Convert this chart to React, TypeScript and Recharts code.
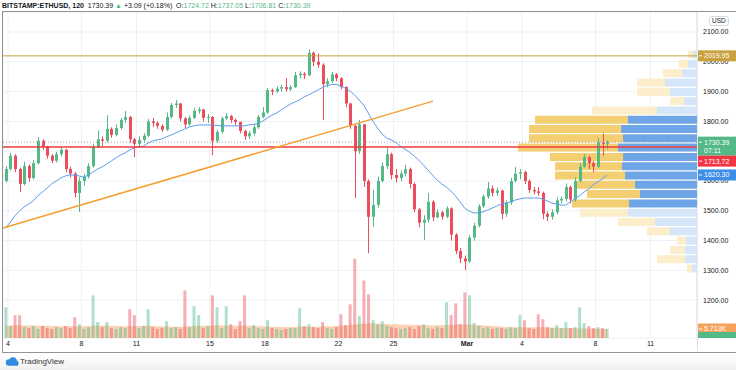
import React from 'react';
import { ComposedChart, Bar, Line, Area, XAxis, YAxis, CartesianGrid, ReferenceLine, Cell } from 'recharts';

const W = 736;
const H = 370;
const UP = '#53b987';
const DOWN = '#eb4d5c';
const FONT = '"Liberation Sans", Arial, sans-serif';

// axes
const X_DOMAIN = [-0.27, 37.53];
const Y_DOMAIN = [1073.2, 2167.1];
const dayTicks = [0, 4, 7, 11, 14, 18, 21, 25, 28, 32, 35];
const dayLabels = ['4', '8', '11', '15', '18', '22', '25', 'Mar', '4', '8', '11'];
const priceTicks = [1200, 1300, 1400, 1500, 1600, 1700, 1800, 1900, 2000, 2100];
const hiddenPriceLabel = 1700; // covered by the last-price tag

// ETHUSD candles (one per 6h)
const firstOpen = 1600;
const closes = [
  1640, 1685, 1640, 1590, 1650, 1610, 1660, 1735, 1715, 1685,
  1668, 1690, 1705, 1640, 1625, 1560, 1600, 1615, 1650, 1715,
  1740, 1735, 1775, 1755, 1778, 1805, 1815, 1740, 1725, 1738,
  1752, 1800, 1795, 1785, 1772, 1815, 1855, 1860, 1810, 1790,
  1812, 1835, 1840, 1812, 1815, 1735, 1765, 1810, 1818, 1805,
  1798, 1768, 1750, 1760, 1780, 1815, 1830, 1905, 1900, 1910,
  1915, 1908, 1915, 1955, 1960, 1955, 2030, 2000, 1990, 1925,
  1935, 1958, 1945, 1915, 1860, 1785, 1700, 1790, 1600, 1480,
  1520, 1600, 1650, 1690, 1620, 1610, 1625, 1640, 1590, 1505,
  1460, 1470, 1530, 1478, 1495, 1480, 1508, 1420, 1365, 1340,
  1330, 1410, 1450, 1515, 1548, 1575, 1560, 1568, 1490, 1528,
  1600, 1625, 1630, 1600, 1570, 1565, 1560, 1490, 1480, 1495,
  1535, 1540, 1580, 1538, 1600, 1648, 1680, 1660, 1648, 1730,
  1724.72, 1730.39,
];
const highs = [
  1650, 1695, 1690, 1645, 1665, 1655, 1670, 1748, 1740, 1718,
  1690, 1698, 1714, 1708, 1648, 1630, 1612, 1625, 1660, 1725,
  1770, 1750, 1821, 1780, 1790, 1812, 1835, 1818, 1745, 1750,
  1760, 1808, 1812, 1800, 1790, 1830, 1862, 1872, 1862, 1815,
  1820, 1845, 1848, 1842, 1825, 1818, 1772, 1815, 1828, 1822,
  1810, 1800, 1772, 1768, 1790, 1822, 1848, 1912, 1910, 1918,
  1922, 1945, 1922, 1966, 1968, 1965, 2042, 2035, 2028, 1995,
  1945, 1966, 1962, 1948, 1918, 1862, 1790, 1805, 1792, 1605,
  1570, 1615, 1662, 1711, 1695, 1640, 1635, 1654, 1645, 1595,
  1510, 1485, 1560, 1535, 1505, 1500, 1515, 1512, 1425, 1375,
  1350, 1418, 1460, 1522, 1555, 1597, 1585, 1578, 1570, 1535,
  1610, 1647, 1640, 1635, 1605, 1580, 1580, 1565, 1498, 1505,
  1545, 1548, 1592, 1585, 1612, 1660, 1690, 1685, 1668, 1745,
  1760, 1737.05,
];
const lows = [
  1595, 1635, 1630, 1563, 1585, 1598, 1605, 1655, 1705, 1675,
  1660, 1662, 1682, 1630, 1612, 1545, 1496, 1585, 1608, 1645,
  1710, 1718, 1730, 1745, 1750, 1772, 1795, 1728, 1680, 1715,
  1730, 1748, 1782, 1775, 1765, 1768, 1810, 1845, 1800, 1778,
  1785, 1808, 1825, 1800, 1795, 1687, 1728, 1760, 1805, 1795,
  1785, 1760, 1738, 1740, 1752, 1775, 1810, 1825, 1888, 1895,
  1900, 1900, 1902, 1912, 1945, 1942, 1952, 1985, 1980, 1805,
  1915, 1930, 1935, 1908, 1848, 1775, 1543, 1690, 1580, 1358,
  1446, 1510, 1595, 1640, 1605, 1595, 1600, 1615, 1575, 1495,
  1445, 1402, 1460, 1465, 1475, 1470, 1475, 1400, 1355, 1325,
  1301, 1325, 1400, 1445, 1510, 1540, 1548, 1550, 1472, 1480,
  1520, 1595, 1605, 1590, 1560, 1555, 1550, 1472, 1465, 1470,
  1488, 1525, 1532, 1525, 1530, 1595, 1645, 1640, 1630, 1645,
  1685, 1706.81,
];
const maValues = [
  1442, 1462, 1483, 1499, 1513, 1523, 1533, 1550, 1563, 1576,
  1590, 1600, 1610, 1617, 1620, 1620, 1617, 1613, 1620, 1630,
  1640, 1647, 1657, 1667, 1677, 1687, 1694, 1704, 1711, 1714,
  1717, 1727, 1734, 1738, 1741, 1748, 1754, 1761, 1768, 1774,
  1781, 1785, 1788, 1788, 1788, 1788, 1786, 1785, 1785, 1785,
  1785, 1785, 1785, 1788, 1790, 1793, 1801, 1811, 1821, 1828,
  1838, 1848, 1858, 1865, 1872, 1882, 1889, 1897, 1905, 1914,
  1920, 1924, 1924, 1919, 1912, 1902, 1889, 1872, 1855, 1828,
  1801, 1778, 1758, 1744, 1738, 1729, 1717, 1707, 1696, 1684,
  1670, 1654, 1637, 1620, 1603, 1590, 1580, 1566, 1550, 1530,
  1509, 1499, 1493, 1493, 1496, 1503, 1509, 1516, 1523, 1526,
  1530, 1536, 1540, 1543, 1543, 1543, 1543, 1540, 1533, 1526,
  1523, 1519, 1519, 1530, 1540, 1550, 1563, 1573, 1587, 1597,
  1607, 1620.3,
];
// volume in K
const volumes = [
  19.5, 7.6, 14.5, 14.5, 6.9, 6.3, 7.6, 5.7, 7.6, 6.3,
  5.7, 6.9, 6.3, 7.6, 6.3, 13.2, 8.8, 5.7, 6.9, 27.1,
  10.1, 6.9, 10.1, 6.3, 5.7, 6.9, 6.3, 18.3, 14.5, 6.3,
  7.6, 18.3, 6.9, 5.7, 6.3, 10.7, 6.3, 6.9, 5.7, 30.2,
  6.9, 20.2, 14.5, 6.3, 7.6, 27.1, 19.5, 6.3, 20.2, 8.8,
  5.7, 10.7, 27.1, 6.3, 8.2, 6.3, 5.7, 11.3, 6.3, 5.7,
  5.0, 5.7, 6.3, 6.3, 18.9, 7.6, 8.8, 6.9, 6.3, 10.1,
  6.3, 5.7, 6.9, 15.1, 8.2, 21.4, 50.4, 13.9, 36.5, 27.7,
  11.3, 8.8, 10.7, 7.6, 6.9, 6.3, 5.7, 6.3, 6.9, 5.7,
  7.6, 8.8, 6.3, 5.7, 6.9, 6.3, 22.7, 14.5, 22.0, 8.8,
  29.0, 27.1, 9.5, 7.6, 6.3, 6.9, 5.7, 6.3, 6.3, 5.7,
  6.9, 6.3, 14.5, 11.3, 6.3, 5.7, 15.1, 12.0, 6.9, 6.3,
  8.2, 6.3, 10.1, 6.3, 6.9, 19.5, 9.5, 7.6, 6.3, 6.9,
  6.3, 5.8,
];
const volumeMa = [
  8.0, 8.0, 8.1, 8.1, 8.0, 7.9, 7.9, 7.8, 7.8, 7.7, 7.6,
  7.6, 7.5, 7.5, 7.4, 7.4, 7.5, 7.5, 7.6, 7.8, 7.9, 7.9, 7.8, 7.7, 7.6, 7.5, 7.4, 7.4, 7.5, 7.6, 7.7,
  7.7, 7.6, 7.5, 7.4, 7.3, 7.3, 7.2, 7.2, 7.3, 7.5, 7.6, 7.7, 7.7, 7.8, 7.9, 8.0, 8.0, 7.9, 7.9, 7.8,
  7.8, 7.8, 7.7, 7.6, 7.5, 7.4, 7.3, 7.2, 7.1, 7.0,
  7.0, 7.0, 7.0, 7.1, 7.1, 7.1, 7.2, 7.2, 7.3, 7.4, 7.5, 7.6, 7.8, 8.0, 8.3, 8.6, 8.9, 9.1, 9.2, 9.2,
  9.1, 9.0, 8.9, 8.8, 8.7, 8.6, 8.5, 8.4, 8.3, 8.2,
  8.2, 8.1, 8.1, 8.1, 8.2, 8.3, 8.4, 8.5, 8.6, 8.6, 8.5, 8.4, 8.2, 8.0, 7.8, 7.6, 7.4, 7.2, 7.0, 6.9,
  6.8, 6.8, 6.8, 6.8, 6.9, 6.9, 6.8, 6.7, 6.6, 6.5, 6.4, 6.4, 6.3, 6.2, 6.2, 6.1, 6.0, 5.9, 5.9, 5.8,
  5.713,
];

// volume profile (visible range), 24 rows
const vpPrices = [
  1307.6, 1338.8, 1370.0, 1401.2, 1432.4, 1463.6, 1494.8, 1526.0, 1557.2, 1588.4, 1619.6, 1650.8,
  1682.0, 1713.2, 1744.4, 1775.6, 1806.8, 1838.0, 1869.2, 1900.4, 1931.6, 1962.8, 1994.0, 2025.2,
];
const vpUp = [
  3.5, 8.4, 8.4, 7.7, 18.9, 29.4, 48.3, 47.6, 39.9, 43.4, 50.4, 52.5,
  51.8, 55.3, 51.8, 53.2, 48.3, 28.0, 9.1, 18.9, 22.4, 10.5, 6.3, 2.8,
];
const vpDown = [
  3.5, 19.6, 10.5, 6.3, 16.1, 25.9, 33.6, 39.9, 37.1, 40.6, 49.0, 46.9,
  51.1, 70.0, 65.8, 64.4, 65.1, 45.5, 9.8, 23.1, 19.6, 13.3, 6.3, 3.5,
];
const VA_FROM = 7;
const VA_TO = 16;
const VP_MAX = 486;

const candles = closes.map((close, i) => ({
  t: -0.125 + i * 0.25,
  open: i === 0 ? firstOpen : closes[i - 1],
  close,
  high: highs[i],
  low: lows[i],
  range: [lows[i], highs[i]],
  ma: maValues[i],
  vol: volumes[i],
  volMa: volumeMa[i],
}));

const vpRows = vpPrices.map((price, i) => ({ price, up: vpUp[i], down: vpDown[i], va: i >= VA_FROM && i <= VA_TO }));

const Candle = (props: any) => {
  const { x, y, width, height, payload } = props;
  if (x == null || y == null) return null;
  const { open, close, high, low } = payload;
  const color = close >= open ? UP : DOWN;
  const ratio = high === low ? 0 : height / (high - low);
  const top = y + (high - Math.max(open, close)) * ratio;
  const bottom = y + (high - Math.min(open, close)) * ratio;
  const cx = Math.round(x + width / 2) + 0.5;
  return (
    <g>
      <line x1={cx} x2={cx} y1={y} y2={y + height} stroke={color} strokeWidth={1} />
      <rect x={cx - 1.5} y={top} width={3} height={Math.max(1, bottom - top)} fill={color} />
    </g>
  );
};

const DayTick = (props: any) => {
  const { x, y, payload } = props;
  const label = dayLabels[dayTicks.indexOf(payload.value)];
  return (
    <text x={x} y={y} dy="0.71em" textAnchor="middle" fontSize={7} fontFamily={FONT} fill="#131722" fontWeight={label === 'Mar' ? 700 : 400}>
      {label}
    </text>
  );
};

const PriceTag = (props: any) => {
  const { viewBox, text, sub, bg, dy = 0 } = props;
  if (!viewBox) return null;
  const x = viewBox.x + viewBox.width + 1;
  const cy = viewBox.y + dy;
  const h = sub ? 19 : 11;
  return (
    <g>
      <rect x={x} y={cy - 5.5} width={W - x} height={h} fill={bg} />
      <line x1={x + 1} x2={x + 4} y1={cy} y2={cy} stroke="#fff" strokeWidth={1} />
      <text x={x + 6} y={cy} dy="0.35em" fontSize={7} fontFamily={FONT} fill="#fff">{text}</text>
      {sub && <text x={x + 6} y={cy + 8.5} dy="0.35em" fontSize={7} fontFamily={FONT} fill="#fff">{sub}</text>}
    </g>
  );
};

const layer: React.CSSProperties = { position: 'absolute', left: 0, top: 0 };

export default function App() {
  return (
    <div style={{ position: 'absolute', left: 0, top: 0, width: W, height: H, background: '#fff', overflow: 'hidden', fontFamily: FONT }}>
      {/* grid, axes, volume */}
      <div style={layer}>
        <ComposedChart width={W} height={H} data={candles} margin={{ top: 12, right: 0, bottom: 18, left: 3 }}>
          <CartesianGrid xAxisId="d" yAxisId="p" stroke="#eef0f3" />
          <XAxis xAxisId="d" dataKey="t" type="number" domain={X_DOMAIN} allowDataOverflow ticks={dayTicks} interval={0}
            tick={<DayTick />} tickLine={false} axisLine={false} tickSize={0} tickMargin={3} height={14} />
          <XAxis xAxisId="v" dataKey="t" type="number" domain={X_DOMAIN} allowDataOverflow hide />
          <YAxis yAxisId="p" orientation="right" type="number" domain={Y_DOMAIN} allowDataOverflow ticks={priceTicks} interval={0}
            width={39} tickFormatter={(v: number) => (v === hiddenPriceLabel ? '' : v.toFixed(2))}
            tick={{ fontSize: 7, fill: '#131722', fontFamily: FONT }}
            tickLine={false} axisLine={{ stroke: '#dcdee3' }} tickSize={0} tickMargin={6} />
          <YAxis yAxisId="vol" type="number" domain={[0, 207]} allowDataOverflow hide />
          <Bar xAxisId="v" yAxisId="vol" dataKey="vol" barSize={3} isAnimationActive={false}>
            {candles.map((c, i) => (
              <Cell key={i} fill={c.close >= c.open ? 'rgba(83,185,135,0.45)' : 'rgba(235,77,92,0.45)'} />
            ))}
          </Bar>
          <Area xAxisId="v" yAxisId="vol" dataKey="volMa" type="linear" stroke="none" fill="#f5a66b" fillOpacity={0.5} isAnimationActive={false} />
          <ReferenceLine xAxisId="v" yAxisId="vol" y={5.713} stroke="none" label={<PriceTag text="5.713K" bg="#f5a35c" />} />
        </ComposedChart>
      </div>

      {/* volume profile */}
      <div style={layer}>
        <ComposedChart layout="vertical" width={W} height={H} data={vpRows} margin={{ top: 12, right: 39, bottom: 32, left: 3 }}>
          <XAxis type="number" domain={[0, VP_MAX]} reversed allowDataOverflow hide />
          <YAxis type="number" dataKey="price" domain={Y_DOMAIN} reversed allowDataOverflow hide />
          <Bar dataKey="up" stackId="vp" barSize={8} isAnimationActive={false}>
            {vpRows.map((r, i) => <Cell key={i} fill={r.va ? '#6ea5e6' : '#d4e6f8'} />)}
          </Bar>
          <Bar dataKey="down" stackId="vp" barSize={8} isAnimationActive={false}>
            {vpRows.map((r, i) => <Cell key={i} fill={r.va ? '#f4cf72' : '#fcedcb'} />)}
          </Bar>
        </ComposedChart>
      </div>

      {/* price */}
      <div style={layer}>
        <ComposedChart width={W} height={H} data={candles} margin={{ top: 12, right: 39, bottom: 32, left: 3 }}>
          <XAxis xAxisId="d" dataKey="t" type="number" domain={X_DOMAIN} allowDataOverflow hide />
          <YAxis yAxisId="p" type="number" domain={Y_DOMAIN} allowDataOverflow hide />
          <Line xAxisId="d" yAxisId="p" dataKey="ma" type="linear" stroke="#5d9cec" strokeWidth={1} dot={false} isAnimationActive={false} />
          <Bar xAxisId="d" yAxisId="p" dataKey="range" barSize={3} shape={<Candle />} isAnimationActive={false} />
          <ReferenceLine xAxisId="d" yAxisId="p" y={2019.95} stroke="#c9a23f" strokeWidth={1}
            label={<PriceTag text="2019.95" bg="#c9a23f" />} />
          <ReferenceLine xAxisId="d" yAxisId="p" y={1730.39} stroke="#9aa3ad" strokeDasharray="1 2" strokeWidth={1}
            label={<PriceTag text="1730.39" sub="07:11" bg="#53b987" />} />
          <ReferenceLine xAxisId="d" yAxisId="p" y={1713.72} stroke="#ef3b3b" strokeWidth={1.5}
            label={<PriceTag text="1713.72" bg="#f23645" dy={14} />} />
          <ReferenceLine xAxisId="d" yAxisId="p" y={1620.3} stroke="none"
            label={<PriceTag text="1620.30" bg="#3d8ee6" />} />
          <ReferenceLine xAxisId="d" yAxisId="p" segment={[{ x: -0.27, y: 1442 }, { x: 23.15, y: 1868 }]}
            stroke="#f5a033" strokeWidth={1.5} />
        </ComposedChart>
      </div>

      {/* frame */}
      <div style={{ position: 'absolute', left: 2, top: 11, width: 734, height: 340, borderLeft: '1px solid #8f949c', borderTop: '1px solid #8f949c', borderBottom: '1px solid #8f949c' }} />
      <div style={{ position: 'absolute', left: 697, top: 338, width: 1, height: 13, background: '#dcdee3' }} />
      <div style={{ position: 'absolute', left: 698, top: 332, width: 38, height: 6, background: '#53b987' }} />

      {/* header */}
      <div style={{ position: 'absolute', left: 2, top: 1, fontSize: 7, lineHeight: '9px', whiteSpace: 'nowrap', color: '#131722' }}>
        <b>BITSTAMP:ETHUSD, 120</b>&nbsp; 1730.39 <span style={{ color: UP }}>▲</span> +3.09 (+0.18%)&nbsp;
        O:<span style={{ color: UP }}>1724.72</span> H:<span style={{ color: UP }}>1737.05</span> L:<span style={{ color: UP }}>1706.81</span> C:<span style={{ color: UP }}>1730.39</span>
      </div>

      {/* currency */}
      <div style={{ position: 'absolute', left: 709, top: 16, fontSize: 6.5, lineHeight: '8px', padding: '0 2px', border: '1px solid #d6d8de', borderRadius: 3, color: '#131722' }}>USD</div>

      {/* footer */}
      <div style={{ position: 'absolute', left: 0, top: 355, width: W, height: 15, background: 'linear-gradient(to bottom, rgba(0,0,0,0), rgba(0,0,0,0.06))' }} />
      <svg style={{ position: 'absolute', left: 5, top: 357 }} width={14} height={9}>
        <circle cx={4} cy={5.5} r={3.2} fill="#2e8de0" />
        <circle cx={8} cy={4} r={3.8} fill="#2e8de0" />
        <rect x={4} y={5.5} width={9} height={3.2} fill="#2e8de0" />
        <circle cx={11} cy={6} r={2.6} fill="#2e8de0" />
      </svg>
      <div style={{ position: 'absolute', left: 20, top: 357, fontSize: 8, lineHeight: '10px', color: '#333' }}>TradingView</div>
    </div>
  );
}
